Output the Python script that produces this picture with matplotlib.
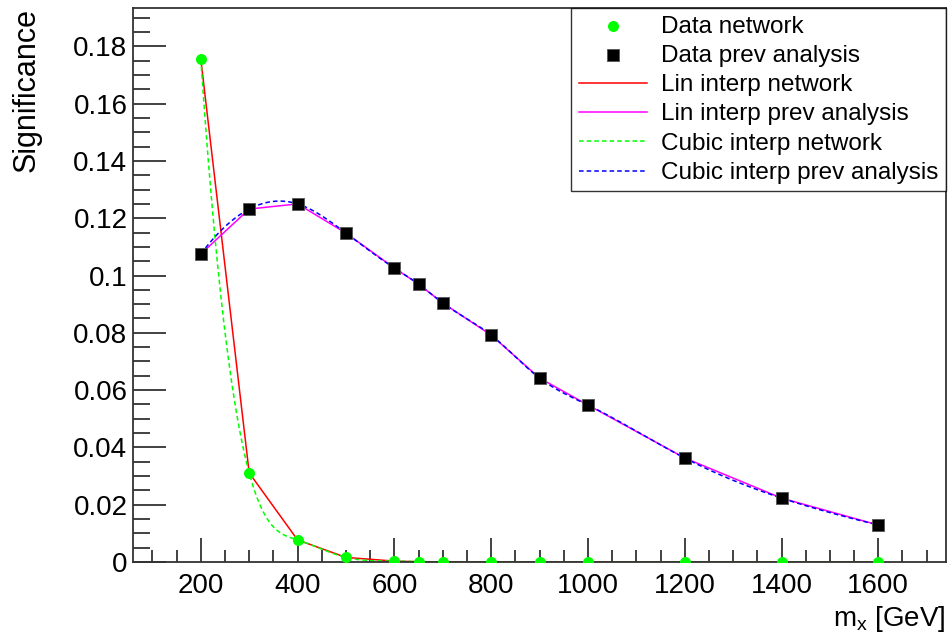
import matplotlib.pyplot as plt
import numpy as np
from matplotlib.ticker import MultipleLocator

plt.rcParams['font.family'] = ['Liberation Sans', 'DejaVu Sans']

mass = [200, 300, 400, 500, 600, 650, 700, 800, 900, 1000, 1200, 1400, 1600]
sig_network = [0.1756, 0.0311, 0.0077, 0.0016, 0.0003, 0.0001, 0.0, 0.0, 0.0, 0.0, 0.0, 0.0, 0.0]
sig_prev = [0.1075, 0.1232, 0.1250, 0.1148, 0.1026, 0.0970, 0.0904, 0.0792, 0.0642, 0.0548, 0.0363, 0.0223, 0.0129]
y_labels = ['0', '0.02', '0.04', '0.06', '0.08', '0.1', '0.12', '0.14', '0.16', '0.18']


def cubic_spline(x, y, xs):
    # not-a-knot cubic spline (like TSpline3 default)
    x = np.asarray(x, float)
    y = np.asarray(y, float)
    n = len(x)
    h = np.diff(x)
    A = np.zeros((n, n))
    b = np.zeros(n)
    A[0, 0], A[0, 1], A[0, 2] = h[1], -(h[0] + h[1]), h[0]
    A[-1, -3], A[-1, -2], A[-1, -1] = h[-1], -(h[-2] + h[-1]), h[-2]
    for i in range(1, n - 1):
        A[i, i - 1] = h[i - 1]
        A[i, i] = 2 * (h[i - 1] + h[i])
        A[i, i + 1] = h[i]
        b[i] = 6 * ((y[i + 1] - y[i]) / h[i] - (y[i] - y[i - 1]) / h[i - 1])
    M = np.linalg.solve(A, b)
    idx = np.clip(np.searchsorted(x, xs) - 1, 0, n - 2)
    x0, x1 = x[idx], x[idx + 1]
    hh = x1 - x0
    t0 = x1 - xs
    t1 = xs - x0
    return (M[idx] * t0 ** 3 / (6 * hh) + M[idx + 1] * t1 ** 3 / (6 * hh)
            + (y[idx] / hh - M[idx] * hh / 6) * t0
            + (y[idx + 1] / hh - M[idx + 1] * hh / 6) * t1)


xs = np.linspace(200, 1600, 800)

fig = plt.figure(figsize=(9.53, 6.34), dpi=100)
ax = fig.add_axes([0.1396, 0.1136, 0.8531, 0.8734])

ax.plot(mass, sig_network, color='#ff0000', lw=1.1, label='Lin interp network', zorder=2)
ax.plot(mass, sig_prev, color='#ff00ff', lw=1.1, label='Lin interp prev analysis', zorder=2)
ax.plot(xs, cubic_spline(mass, sig_network, xs), color='#00ff00', lw=1.1,
        ls=(0, (3, 2)), label='Cubic interp network', zorder=2)
ax.plot(xs, cubic_spline(mass, sig_prev, xs), color='#0000ff', lw=1.1,
        ls=(0, (3, 2)), label='Cubic interp prev analysis', zorder=2)
ax.scatter(mass, sig_network, s=63, color='#00ff00', marker='o', lw=0, label='Data network', zorder=3)
ax.scatter(mass, sig_prev, s=66, color='black', marker='s', lw=0.6, edgecolors='#555555',
           label='Data prev analysis', zorder=3)

ax.set_xlim(60, 1740)
ax.set_ylim(0, 0.1933)

ax.xaxis.set_minor_locator(MultipleLocator(50))
ax.yaxis.set_minor_locator(MultipleLocator(0.005))
ax.set_yticks(np.arange(0, 0.19, 0.02))
ax.set_yticklabels(y_labels)
ax.set_xticks(range(200, 1700, 200))
ax.set_xticklabels([str(v) for v in range(200, 1700, 200)])

ax.tick_params(axis='both', which='both', direction='in', top=False, right=False,
               labelsize=20, color='#333333', width=1.3)
ax.tick_params(axis='x', which='major', length=17, pad=8)
ax.tick_params(axis='x', which='minor', length=8.5)
ax.tick_params(axis='y', which='major', length=24, pad=4)
ax.tick_params(axis='y', which='minor', length=12)
for sp in ax.spines.values():
    sp.set_color('#333333')
    sp.set_linewidth(1.3)

ax.set_ylabel('Significance', fontsize=22)
ax.yaxis.set_label_coords(-0.113, 1.0, transform=ax.transAxes)
ax.yaxis.label.set_ha('right')
ax.set_xlabel('m$_\\mathregular{x}$ [GeV]', fontsize=20)
ax.xaxis.set_label_coords(1.0, -0.075)
ax.xaxis.label.set_ha('right')

handles, labels = ax.get_legend_handles_labels()
order = [4, 5, 0, 1, 2, 3]
leg = ax.legend([handles[i] for i in order], [labels[i] for i in order],
                loc='upper right', bbox_to_anchor=(1.0, 1.0), fontsize=17.5,
                frameon=True, fancybox=False, borderaxespad=0, handlelength=2.8,
                labelspacing=0.3, borderpad=0.3, handletextpad=0.6)
leg.get_frame().set_edgecolor('black')
leg.get_frame().set_linewidth(1.0)

fig.savefig('out.png', dpi=100)
